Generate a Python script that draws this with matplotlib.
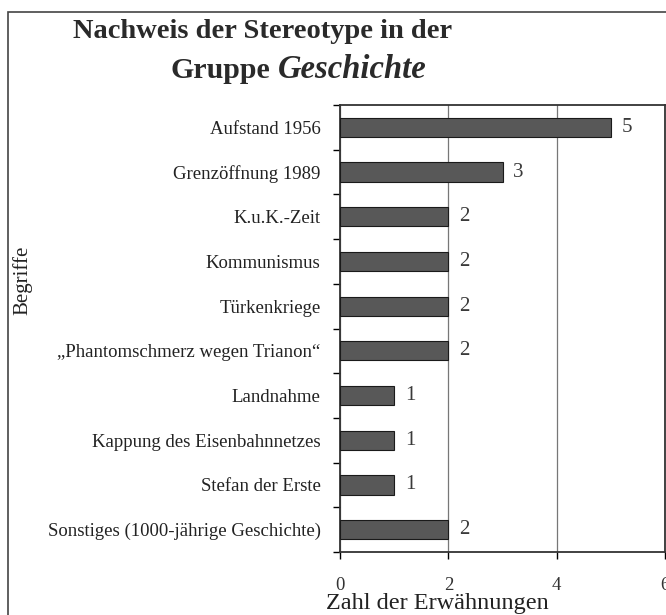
import matplotlib.pyplot as plt
from matplotlib.patches import Rectangle
from matplotlib.ticker import FixedLocator
import numpy as np

plt.rcParams['font.family'] = ['Liberation Serif', 'DejaVu Serif']

# data
begriffe = [
    "Aufstand 1956",
    "Grenzöffnung 1989",
    "K.u.K.-Zeit",
    "Kommunismus",
    "Türkenkriege",
    "\u201ePhantomschmerz wegen Trianon\u201c",
    "Landnahme",
    "Kappung des Eisenbahnnetzes",
    "Stefan der Erste",
    "Sonstiges (1000-jährige Geschichte)",
]
erwaehnungen = [5, 3, 2, 2, 2, 2, 1, 1, 1, 2]
x_ticks = [0, 2, 4, 6]

fig = plt.figure(figsize=(6.66, 6.15), dpi=100)
fig.patch.set_facecolor("white")

# scan frame around the chart
frame = Rectangle((8 / 666, -0.05), 1.1, 1 - 12 / 615 + 0.05,
                  transform=fig.transFigure, fill=False,
                  edgecolor="#444444", linewidth=1.2)
fig.patches.append(frame)

ax = fig.add_axes([340 / 666, 1 - 552 / 615, 325 / 666, (552 - 105) / 615])
pos = np.arange(len(begriffe))
ax.barh(pos, erwaehnungen, height=0.43, color="#585858",
        edgecolor="#1a1a1a", linewidth=0.8, zorder=3)

for p, v in zip(pos, erwaehnungen):
    ax.text(v + 0.2, p, str(v), va="center", ha="left",
            fontsize=15, color="#3a3a3a")

ax.set_xlim(0, 6)
ax.set_ylim(len(begriffe) - 0.5, -0.5)
ax.set_xticks(x_ticks)
ax.set_xticklabels([str(t) for t in x_ticks], fontsize=13.5, color="#333333")
ax.tick_params(axis="x", direction="out", length=5, width=1, pad=13)

ax.set_yticks(pos)
ax.set_yticklabels(begriffe, fontsize=13.5, color="#222222")
ax.tick_params(axis="y", which="major", length=0, pad=14)
ax.yaxis.set_minor_locator(FixedLocator(np.arange(-0.5, len(begriffe), 1.0)))
ax.tick_params(axis="y", which="minor", direction="out", length=5, width=1)

ax.xaxis.grid(True, color="#777777", linewidth=0.9)
ax.set_axisbelow(True)
for s in ax.spines.values():
    s.set_linewidth(1.3)
    s.set_color("#333333")

fig.text(263 / 666, 1 - 31 / 615, "Nachweis der Stereotype in der",
         ha="center", va="center", fontsize=20.5, fontweight="bold",
         color="#2a2a2a")
fig.text(170 / 666, 1 - 70 / 615, "Gruppe", ha="left", va="center",
         fontsize=21.5, fontweight="bold", color="#2a2a2a")
fig.text(278 / 666, 1 - 70 / 615, "Geschichte", ha="left", va="center",
         fontsize=23.5, fontweight="bold", fontstyle="italic",
         color="#2a2a2a")

fig.text(437 / 666, 1 - 604 / 615, "Zahl der Erwähnungen", ha="center",
         va="center", fontsize=17.5, color="#222222")
fig.text(22 / 666, 1 - 280 / 615, "Begriffe", ha="center", va="center",
         rotation=90, fontsize=15, color="#222222")

fig.savefig("out.png", dpi=100, facecolor="white")
